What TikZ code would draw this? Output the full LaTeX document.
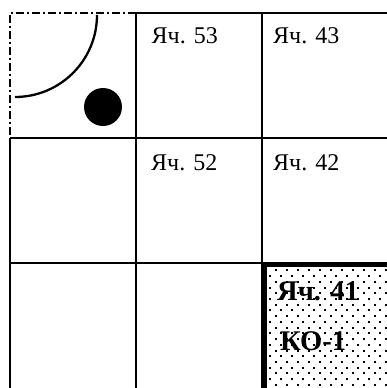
\documentclass[tikz,border=0pt]{standalone}
\usepackage{fontspec}
\setmainfont{Liberation Serif}

\begin{document}
\begin{tikzpicture}[
	x=1pt, y=-1pt,
	gridline/.style={black, line width=2.3pt},
	borderline/.style={black, line width=2.3pt, dash pattern=on 8pt off 3pt on 2pt off 3pt},
	koline/.style={black, line width=4pt},
	cellname/.style={anchor=base west, inner sep=0pt, font=\fontsize{24}{28}\selectfont},
	koname/.style={anchor=base west, inner sep=0pt, font=\fontsize{28.5}{34}\selectfont\bfseries},
	dotmark/.style={fill=black},
]

\useasboundingbox (0,0) rectangle (387,388);
\clip (0,0) rectangle (387,388);

\pgfmathsetmacro{\xa}{10}
\pgfmathsetmacro{\ya}{13}
\pgfmathsetmacro{\dx}{126}
\pgfmathsetmacro{\dy}{125}

% dotted fill of cell 41
\begin{scope}
	\clip (262,263) rectangle (387,388);
	\foreach \k in {0,...,22} {
		\pgfmathsetmacro{\yy}{264.6+5.73*\k}
		\pgfmathsetmacro{\xo}{5.5*(1-mod(\k,2))}
		\foreach \j in {0,...,11} {
			\fill[dotmark] ({264.7+\xo+11*\j-1}, {\yy-1}) rectangle ++(2,2);
		}
	}
\end{scope}

% grid
\draw[gridline] ({\xa+\dx}, \ya) -- (387, \ya);
\draw[gridline] (\xa, {\ya+\dy}) -- (\xa, 388);
\foreach \i in {1,2} {
	\draw[gridline] ({\xa+\i*\dx}, \ya) -- ({\xa+\i*\dx}, 388);
	\draw[gridline] (\xa, {\ya+\i*\dy}) -- (387, {\ya+\i*\dy});
}

% dash-dot border of the corner cell
\draw[borderline] ({\xa+\dx}, \ya) -- (\xa, \ya) -- (\xa, {\ya+\dy});

% arc and disc in the corner cell
\draw[gridline] (97,15) arc[start angle=0, end angle=90, radius=82];
\fill (103,107) circle[radius=19];

% heavy border of cell 41
\draw[koline] (264.5,388) -- (264.5,265) -- (387,265);

% cell names
\node[cellname] (c53) at (151.5,43.3) {Яч. 53};
\node[cellname] (c43) at (273,43.3) {Яч. 43};
\node[cellname] (c52) at (151,170) {Яч. 52};
\node[cellname] (c42) at (273,170) {Яч. 42};
\node[koname] (c41) at (277,300) {Яч. 41};
\node[koname] (ko1) at (280,350.5) {КО-1};

\end{tikzpicture}
\end{document}
